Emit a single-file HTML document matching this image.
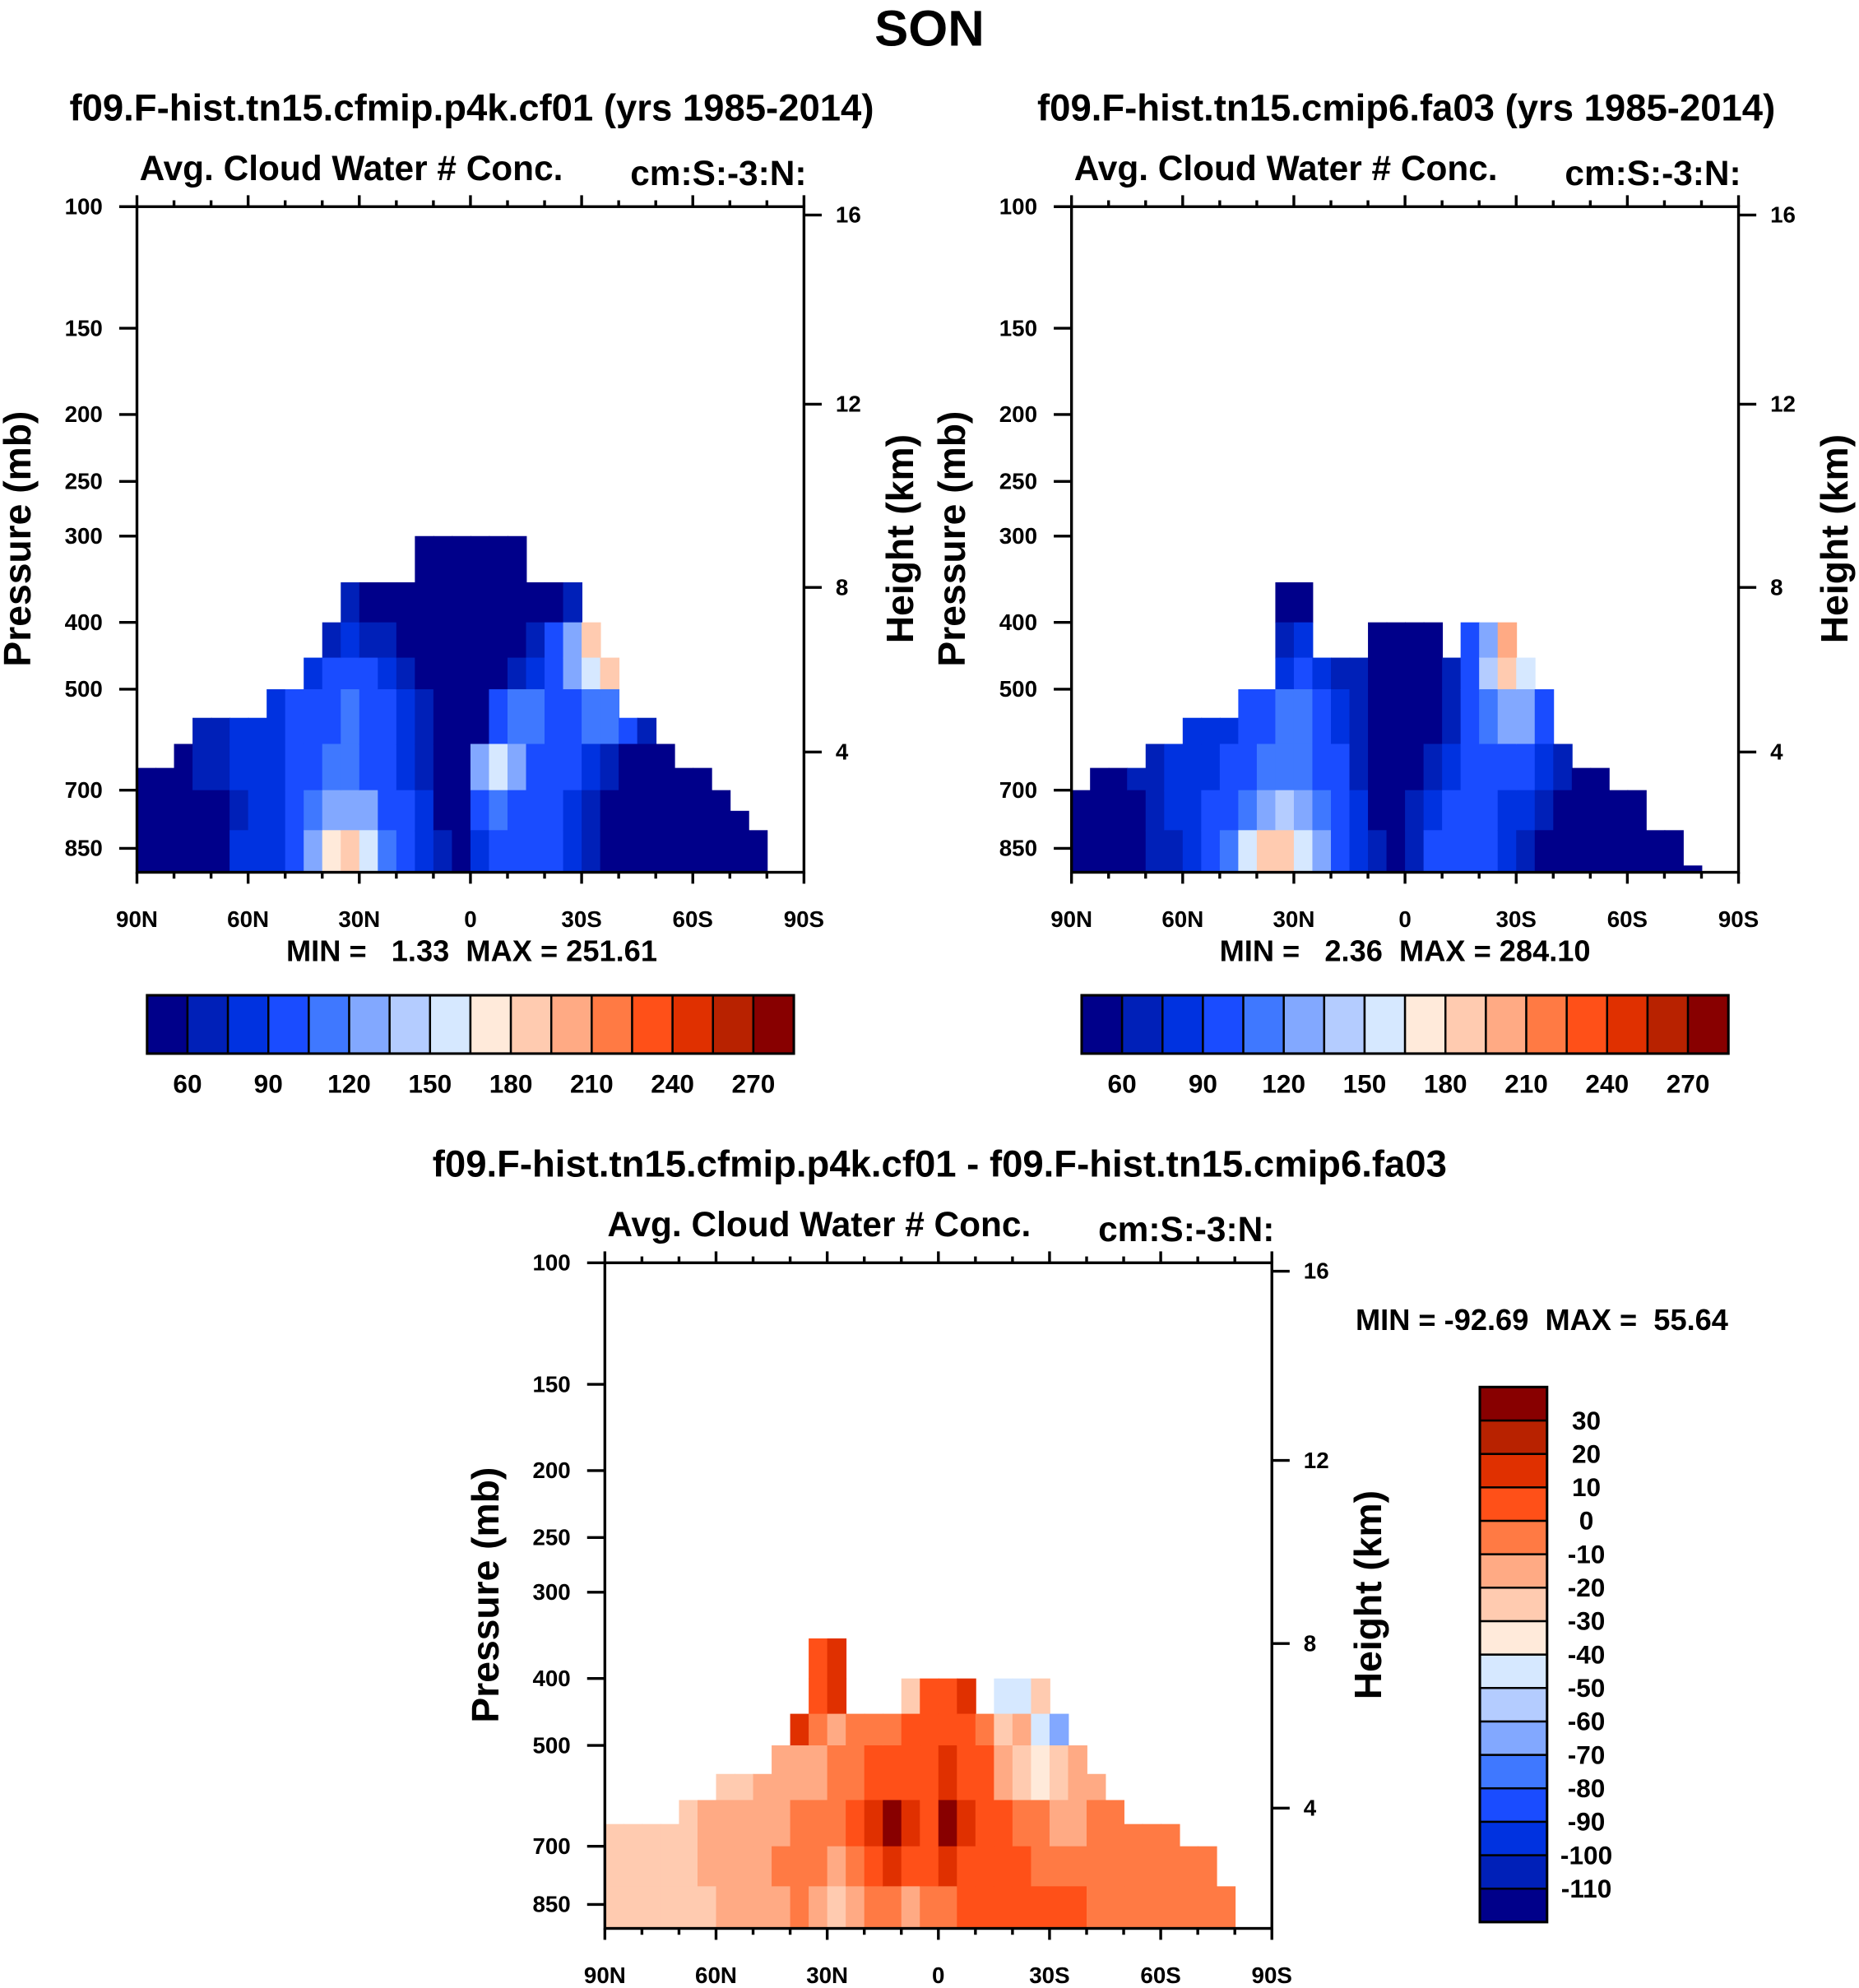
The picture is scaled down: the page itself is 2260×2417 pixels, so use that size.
<!DOCTYPE html>
<html><head><meta charset="utf-8"><style>
html,body{margin:0;padding:0;background:#fff}
svg{display:block}
text{font-family:"Liberation Sans",Arial,sans-serif;font-weight:bold;fill:#000}
</style></head><body>
<svg id="fig" xmlns="http://www.w3.org/2000/svg" width="2260" height="2417" viewBox="0 0 1466 1568" preserveAspectRatio="none">
<text x="733" y="36" font-size="40" text-anchor="middle">SON</text>
<g id="p1"></g>
<g id="p2"></g>
<g id="p3"></g>
</svg>
<script>
const colors=["#00008a","#0020b8","#0032e0","#1a4cff","#3f78ff","#82a8ff","#b4ccff","#d6e8ff","#ffeada","#ffcbb0","#ffaa84","#ff7a44","#ff5018","#e03000","#b82200","#880000"];
const absLevels=[60,75,90,105,120,135,150,165,180,195,210,225,240,255,270];
const absLabels=[60,90,120,150,180,210,240,270];
const diffLevels=[-110,-100,-90,-80,-70,-60,-50,-40,-30,-20,-10,0,10,20,30];
const pBins=[300,350,400,450,500,600,700,800,920];
const pTicks=[100,150,200,250,300,400,500,700,850];
const hTicks=[4,8,12,16];
const latTickLabels=["90N","60N","30N","0","30S","60S","90S"];
const tops1=[650,650,600,550,550,550,550,500,500,450,400,350,350,350,350,300,300,300,300,300,300,350,350,350,400,450,550,550,600,650,650,700,750,800,0,0];
const tops2=[700,650,650,650,600,600,550,550,550,500,500,350,350,450,450,450,400,400,400,400,450,400,400,400,450,500,600,650,650,700,700,800,800,900,0,0];
const tops3=[650,650,650,650,600,600,550,550,550,500,450,350,350,450,450,450,400,400,400,400,450,400,400,400,450,500,550,600,650,650,650,700,700,800,0,0];
const grid1=[
[50,50,50,50,50,50,50,50,50,50,50,50,50,50,50,45,45,45,45,45,45,50,50,50,50,50,50,50,50,50,50,50,50,50,50,50],
[50,50,50,50,50,50,50,50,50,50,55,60,55,50,50,45,45,45,45,45,45,50,55,65,80,50,50,50,50,50,50,50,50,50,50,50],
[50,50,50,50,50,50,50,50,50,60,70,75,70,60,55,45,45,45,45,45,55,70,90,130,185,200,50,50,50,50,50,50,50,50,50,50],
[50,50,50,50,50,50,50,75,80,85,90,95,90,80,60,50,45,45,45,55,70,85,100,120,160,190,230,50,50,50,50,50,50,50,50,50],
[50,50,50,60,70,75,80,85,90,95,100,105,100,95,80,60,50,45,45,100,110,105,100,100,110,115,95,70,50,50,50,50,50,50,50,50],
[50,50,50,60,70,75,80,85,95,100,105,110,100,95,85,70,50,45,130,155,120,100,95,95,85,65,50,50,50,50,50,50,50,50,50,50],
[50,50,50,50,50,70,75,80,95,105,120,130,120,100,90,80,55,45,100,110,100,95,90,85,70,55,50,50,50,50,50,50,50,50,50,50],
[50,50,50,50,50,75,75,80,100,130,170,180,150,110,90,80,60,50,80,95,100,95,90,80,65,55,50,50,50,50,50,50,50,50,50,50]];
const grid2=[
[50,50,50,50,50,50,50,50,50,50,50,50,50,50,50,50,50,50,50,50,50,50,50,50,50,50,50,50,50,50,50,50,50,50,50,50],
[50,50,50,50,50,50,50,50,50,50,50,55,50,50,50,50,45,45,45,45,50,70,100,120,50,50,50,50,50,50,50,50,50,50,50,50],
[50,50,50,50,50,50,50,50,50,50,50,70,75,70,60,55,45,45,45,50,60,95,130,200,180,50,50,50,50,50,50,50,50,50,50,50],
[50,50,50,50,50,50,50,50,50,60,70,85,90,85,70,60,45,45,45,50,70,100,140,190,160,120,50,50,50,50,50,50,50,50,50,50],
[50,50,50,50,60,70,75,80,85,90,100,110,105,95,85,65,50,45,45,50,70,95,115,130,120,100,80,50,50,50,50,50,50,50,50,50],
[50,50,50,60,70,75,80,85,90,100,110,115,105,100,90,70,50,45,45,60,85,100,100,95,90,75,60,50,50,50,50,50,50,50,50,50],
[50,50,50,55,65,75,80,90,100,115,130,140,120,105,95,80,55,50,60,85,95,100,95,85,75,60,50,50,50,50,50,50,50,50,50,50],
[50,50,50,50,60,70,80,90,110,150,185,190,160,120,100,80,60,55,70,90,100,95,90,80,65,55,50,50,50,50,50,50,50,50,50,50]];
const grid3=[
[-15,-15,-15,-15,-15,-15,-15,-15,-15,-15,-15,15,35,-15,-15,-15,-15,-15,-15,-15,-15,-15,-15,-15,-15,-15,-15,-15,-15,-15,-15,-15,-15,-15,-15,-15],
[-15,-15,-15,-15,-15,-15,-15,-15,-15,-15,-15,5,15,-15,-15,-15,-15,-15,-15,-15,-15,-15,-15,-15,-15,-15,-15,-15,-15,-15,-15,-15,-15,-15,-15,-15],
[-15,-15,-15,-15,-15,-15,-15,-15,-15,-15,-15,5,15,-15,-15,-15,-25,5,5,15,-15,-45,-45,-25,-25,-15,-15,-15,-15,-15,-15,-15,-15,-15,-15,-15],
[-15,-15,-15,-15,-15,-15,-15,-15,-15,-25,15,-5,-15,-5,-5,-5,5,5,5,5,-5,-25,-15,-45,-70,-35,-15,-15,-15,-15,-15,-15,-15,-15,-15,-15],
[-25,-25,-25,-25,-25,-25,-25,-25,-15,-15,-15,-15,-5,-5,5,5,5,5,15,5,5,-15,-25,-35,-25,-15,-15,-15,-15,-15,-15,-15,-15,-15,-15,-15],
[-25,-25,-25,-25,-25,-15,-15,-15,-15,-15,-5,-5,-5,5,15,35,15,5,35,15,5,5,-5,-5,-15,-15,-5,-5,-5,-5,-5,-5,-5,-5,-5,-5],
[-25,-25,-25,-25,-25,-15,-15,-15,-15,-5,-5,-5,-15,-5,5,15,5,5,15,5,5,5,5,-5,-5,-5,-5,-5,-5,-5,-5,-5,-5,-5,-5,-5],
[-25,-25,-25,-25,-25,-25,-15,-15,-15,-15,-5,-15,-25,-15,-5,-5,-15,-5,-5,5,5,5,5,5,5,5,-5,-5,-5,-5,-5,-5,-5,-5,-5,-5]];

const NS="http://www.w3.org/2000/svg";
function el(parent,tag,attrs,txt){const e=document.createElementNS(NS,tag);for(const k in attrs)e.setAttribute(k,attrs[k]);if(txt!==undefined)e.textContent=txt;parent.appendChild(e);return e;}
function colorIdx(v,levels){let i=0;while(i<levels.length&&v>=levels[i])i++;return i;}
function stdP(h){ // standard atmosphere pressure (mb) at height h km
  if(h<=11)return 1013.25*Math.pow(1-h/44.33,5.256);
  return 226.3*Math.exp(-(h-11)/6.34);
}

function panel(g,x0,y0,title,tops,grid,levels){
  const W=526,H=525,K=236.5;
  const yP=p=>y0+K*Math.log(p/100);
  const xL=lat=>x0+(90-lat)/180*W;
  const yBot=y0+H;
  if(title){const t=el(g,'text',{x:x0+W/2+1,y:y0-68,'font-size':29.5,'text-anchor':'middle'},title);
    
    }
  const a=el(g,'text',{x:x0+2,y:y0-21,'font-size':27.5},'Avg. Cloud Water # Conc.');
  
  
  const u=el(g,'text',{x:x0+W+2,y:y0-17,'font-size':27.5,'text-anchor':'end'},'cm:S:-3:N:');
  
  
  const cells=el(g,'g',{});
  
  
  for(let c=0;c<36;c++){
    const top=tops[c]; if(!top)continue;
    const xa=xL(90-5*c), xb=xL(85-5*c);
    for(let r=0;r<8;r++){
      const pt=Math.max(pBins[r],top), pb=pBins[r+1];
      if(pb<=pt)continue;
      const ya=yP(pt), yb=Math.min(yP(pb),yBot);
      const rc=el(cells,'rect',{x:xa.toFixed(2),y:ya.toFixed(2),width:(xb-xa+0.6).toFixed(2),height:(yb-ya+0.6).toFixed(2),fill:colors[colorIdx(grid[r][c],levels)]});
      
      
    }
  }
  const ax=el(g,'g',{stroke:'#000','stroke-width':2.2,fill:'none'});
  
  
  el(ax,'rect',{x:x0,y:y0,width:W,height:H});
  for(let lat=90;lat>=-90;lat-=10){
    const x=xL(lat), major=lat%30===0, L=major?9:5;
    el(ax,'line',{x1:x,y1:y0,x2:x,y2:y0-L});
    el(ax,'line',{x1:x,y1:yBot,x2:x,y2:yBot+L});
  }
  latTickLabels.forEach((s,i)=>{const t=el(g,'text',{x:xL(90-30*i),y:yBot+43,'font-size':18,'text-anchor':'middle'},s);
    
    });
  pTicks.forEach(p=>{const y=yP(p);el(ax,'line',{x1:x0,y1:y,x2:x0-14,y2:y});
    const t=el(g,'text',{x:x0-27,y:y+6,'font-size':18,'text-anchor':'end'},String(p));
    
    });
  hTicks.forEach(h=>{const y=yP(stdP(h));el(ax,'line',{x1:x0+W,y1:y,x2:x0+W+14,y2:y});
    const t=el(g,'text',{x:x0+W+25,y:y+6,'font-size':18},String(h));
    
    });
  const cy=y0+262;
  const pl=el(g,'text',{x:0,y:0,'font-size':30,'text-anchor':'middle',transform:`translate(${x0-84},${cy}) rotate(-90)`},'Pressure (mb)');
  
  
  const hl=el(g,'text',{x:0,y:0,'font-size':30,'text-anchor':'middle',transform:`translate(${x0+W+86},${cy}) rotate(-90)`},'Height (km)');
  
  
}
function hbar(g,x,y,w,h,labels,levels){
  const n=colors.length,bw=w/n;
  colors.forEach((c,i)=>{const r=el(g,'rect',{x:x+i*bw,y,width:bw,height:h,fill:c,stroke:'#000','stroke-width':1.6});
    
    });
  el(g,'rect',{x,y,width:w,height:h,fill:'none',stroke:'#000','stroke-width':2});
  labels.forEach(v=>{const i=levels.indexOf(v)+1;const t=el(g,'text',{x:x+i*bw,y:y+h+31,'font-size':20.5,'text-anchor':'middle'},String(v));
    
    });
}
function vbar(g,x,y,w,h,levels){
  const n=colors.length,bh=h/n;
  colors.forEach((c,i)=>{const r=el(g,'rect',{x,y:y+h-(i+1)*bh,width:w,height:bh,fill:c,stroke:'#000','stroke-width':1.6});
    
    });
  el(g,'rect',{x,y,width:w,height:h,fill:'none',stroke:'#000','stroke-width':2});
  levels.forEach((v,i)=>{const t=el(g,'text',{x:x+w+31,y:y+h-(i+1)*bh+7,'font-size':20.5,'text-anchor':'middle'},String(v));
    
    });
}
const p1=document.getElementById('p1'),p2=document.getElementById('p2'),p3=document.getElementById('p3');
panel(p1,108,163,'f09.F-hist.tn15.cfmip.p4k.cf01 (yrs 1985-2014)',tops1,grid1,absLevels);
panel(p2,845,163,'f09.F-hist.tn15.cmip6.fa03 (yrs 1985-2014)',tops2,grid2,absLevels);
panel(p3,477,996,'f09.F-hist.tn15.cfmip.p4k.cf01 - f09.F-hist.tn15.cmip6.fa03',tops3,grid3,diffLevels);
let m=el(p1,'text',{x:372,y:758,'font-size':23.5,'text-anchor':'middle'},'MIN =   1.33  MAX = 251.61');


m=el(p2,'text',{x:1108,y:758,'font-size':23.5,'text-anchor':'middle'},'MIN =   2.36  MAX = 284.10');


m=el(p3,'text',{x:1069,y:1049,'font-size':23.5},'MIN = -92.69  MAX =  55.64');


[...document.querySelectorAll('text')].forEach(t=>t.style.whiteSpace='pre');
const cb1=el(p1,'g',{});
hbar(cb1,116,785,510,46,absLabels,absLevels);
const cb2=el(p2,'g',{});
hbar(cb2,853,785,510,46,absLabels,absLevels);
const cb3=el(p3,'g',{});
vbar(cb3,1167,1094,53,422,diffLevels);
</script>
</body></html>
